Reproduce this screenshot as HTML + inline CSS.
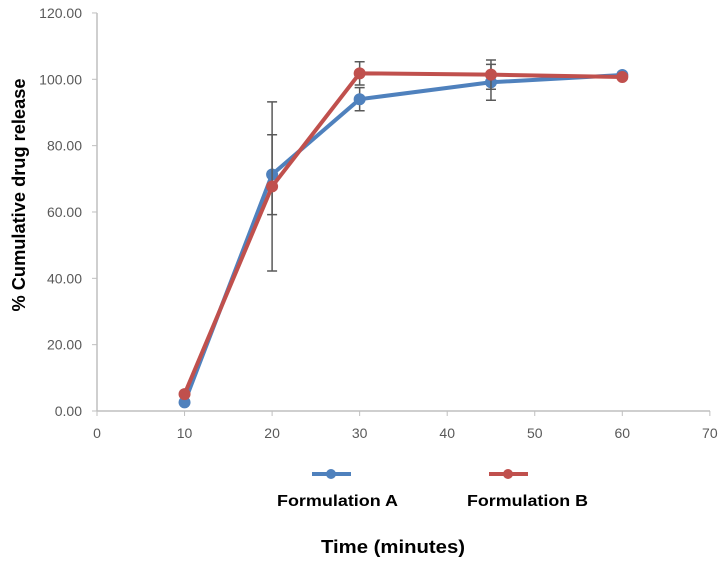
<!DOCTYPE html>
<html><head><meta charset="utf-8"><style>
body{margin:0;background:#fff;}
svg text{font-family:"Liberation Sans",Arial,sans-serif;}
</style></head><body>
<svg width="722" height="563" xmlns="http://www.w3.org/2000/svg">
<g id="axes"></g><g id="plot"></g>
<g>
<line x1="312" y1="474" x2="351" y2="474" stroke="#4f81bd" stroke-width="4"/>
<circle cx="331" cy="474" r="5" fill="#4f81bd"/>
<text x="277" y="506" font-size="16" font-weight="bold" textLength="121" lengthAdjust="spacingAndGlyphs">Formulation A</text>
<line x1="489" y1="474" x2="528" y2="474" stroke="#c0504d" stroke-width="4"/>
<circle cx="508" cy="474" r="5" fill="#c0504d"/>
<text x="467" y="506" font-size="16" font-weight="bold" textLength="121" lengthAdjust="spacingAndGlyphs">Formulation B</text>
</g>
<text x="393" y="553" font-size="18" font-weight="bold" text-anchor="middle" textLength="144" lengthAdjust="spacingAndGlyphs">Time (minutes)</text>
<text transform="translate(25,195) rotate(-90)" font-size="18" font-weight="bold" text-anchor="middle" textLength="233" lengthAdjust="spacingAndGlyphs">% Cumulative drug release</text>
</svg>
<script>
const times=[10,20,30,45,60];
const seriesA=[2.6,71.3,94.0,99.1,101.3];
const seriesB=[5.1,67.7,101.8,101.4,100.7];
const errAUp=[0,21.9,3.5,5.4,0];
const errADown=[0,29.1,3.5,5.4,0];
const errBUp=[0,15.6,3.5,4.4,0];
const errBDown=[0,8.5,3.5,4.4,0];
const xTicks=[0,10,20,30,40,50,60,70];
const yTicks=[0,20,40,60,80,100,120];
const NS="http://www.w3.org/2000/svg";
const X=v=>97+v*8.755, Y=v=>411-v*3.317;
function mk(tag,attrs,parent){const e=document.createElementNS(NS,tag);for(const k in attrs)e.setAttribute(k,attrs[k]);parent.appendChild(e);return e;}
const axes=document.getElementById('axes'),plot=document.getElementById('plot');
let l=mk('line',{x1:97,y1:411,x2:710,y2:411,stroke:'#bfbfbf','stroke-width':1.5},axes);


l=mk('line',{x1:97,y1:13,x2:97,y2:411,stroke:'#bfbfbf','stroke-width':1.5},axes);


xTicks.forEach(t=>{
 const tk=mk('line',{x1:X(t),y1:411,x2:X(t),y2:416,stroke:'#bfbfbf'},axes);
 
 
 const tx=mk('text',{x:X(t),y:438,'font-size':14,'text-anchor':'middle',fill:'#595959'},axes);tx.textContent=t;
 
 
});
yTicks.forEach(t=>{
 const tk=mk('line',{x1:92,y1:Y(t),x2:97,y2:Y(t),stroke:'#bfbfbf'},axes);
 
 
 const tx=mk('text',{x:82,y:Y(t)+5,'font-size':14,'text-anchor':'end',fill:'#595959'},axes);tx.textContent=t.toFixed(2);
 
 
});
function series(vals,up,down,color,name){
 const g=mk('g',{},plot);
 
 
 vals.forEach((v,i)=>{if(up[i]||down[i]){
  const x=X(times[i]);
  const e=mk('path',{d:`M${x},${Y(v+up[i])}V${Y(v-down[i])}M${x-5},${Y(v+up[i])}h10M${x-5},${Y(v-down[i])}h10`,stroke:'#595959','stroke-width':1.5,fill:'none'},g);
  
  
 }});
 const p=mk('polyline',{points:vals.map((v,i)=>X(times[i])+','+Y(v)).join(' '),fill:'none',stroke:color,'stroke-width':4,'stroke-linejoin':'round'},g);
 
 
 vals.forEach((v,i)=>{
  const c=mk('circle',{cx:X(times[i]),cy:Y(v),r:6,fill:color},g);
  
  
 });
}
series(seriesA,errAUp,errADown,'#4f81bd','series-formulation-a');
series(seriesB,errBUp,errBDown,'#c0504d','series-formulation-b');
</script>
</body></html>
